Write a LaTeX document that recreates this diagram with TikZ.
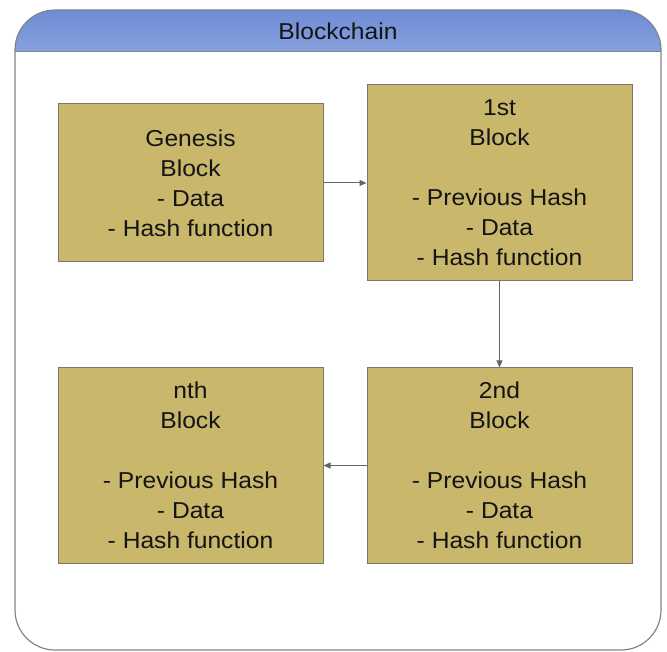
\documentclass[tikz,border=0pt]{standalone}
\usepackage{fontspec}
\setmainfont{Liberation Sans}[FakeStretch=1.07]
\usetikzlibrary{arrows.meta}
\definecolor{blockfill}{RGB}{201,183,108}
\definecolor{blockline}{RGB}{125,120,110}
\definecolor{headtop}{RGB}{110,140,214}
\definecolor{headbot}{RGB}{136,160,221}
\definecolor{frameline}{RGB}{130,132,140}
\definecolor{arrowgray}{RGB}{100,100,105}
\definecolor{textcol}{RGB}{20,20,20}
\begin{document}
\begin{tikzpicture}[x=1pt,y=-1pt,
  blockbox/.style={draw=blockline, line width=1pt, fill=blockfill, inner sep=0pt,
    minimum width=265pt, align=center, text=textcol,
    font=\fontsize{23}{30}\selectfont},
  chainarrow/.style={draw=arrowgray, line width=1pt,
    -{Triangle[length=7pt,width=6pt]}}
]
\useasboundingbox (0,0) rectangle (667,652);
% container
\begin{scope}
  \clip[rounded corners=40pt] (15,10) rectangle (661,650);
  \shade[top color=headtop, bottom color=headbot] (15,10) rectangle (661,52);
\end{scope}
\draw[frameline, line width=1pt] (15,52) -- (661,52);
\draw[frameline, line width=1.2pt, rounded corners=40pt] (15,10) rectangle (661,650);
\node[text=textcol, font=\fontsize{23}{26}\selectfont] (title) at (338,31) {Blockchain};
% blocks
\node[blockbox, minimum height=158pt] (genesis) at (190.5,183)
  {Genesis\\Block\\- Data\\- Hash function};
\node[blockbox, minimum height=196pt] (first) at (499.5,183)
  {1st\\Block\\[30pt]- Previous Hash\\- Data\\- Hash function};
\node[blockbox, minimum height=195pt] (second) at (499.5,465.5)
  {2nd\\Block\\[30pt]- Previous Hash\\- Data\\- Hash function};
\node[blockbox, minimum height=195pt] (nth) at (190.5,465.5)
  {nth\\Block\\[30pt]- Previous Hash\\- Data\\- Hash function};
% connectors
\draw[chainarrow] (genesis.east) -- (first.west);
\draw[chainarrow] (first.south) -- (second.north);
\draw[chainarrow] (second.west) -- (nth.east);
\end{tikzpicture}
\end{document}
